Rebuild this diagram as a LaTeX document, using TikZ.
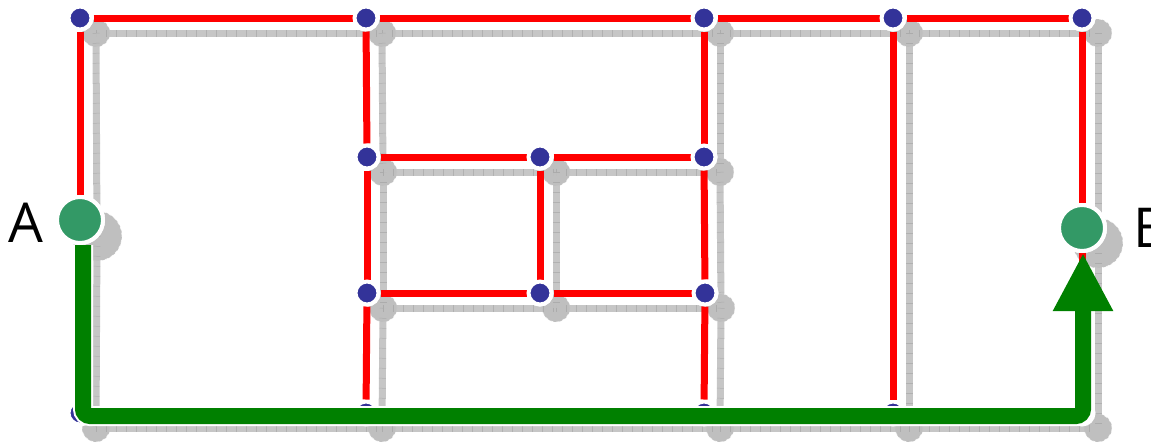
\documentclass[tikz,border=0pt]{standalone}
\usepackage{fontspec}
\setmainfont{Open Sans}
\usetikzlibrary{arrows.meta,calc}
\definecolor{vblue}{RGB}{51,51,153}
\definecolor{vgreen}{RGB}{51,153,102}
\definecolor{pgreen}{RGB}{0,128,0}
\definecolor{shgray}{RGB}{192,192,192}
\tikzset{
  vnode/.style={circle, fill=vblue, draw=white, line width=4pt, minimum size=23pt, inner sep=0pt},
  endnode/.style={circle, fill=vgreen, draw=white, line width=4pt, minimum size=46pt, inner sep=0pt},
  shnode/.style={circle, fill=gray, fill opacity=0.5, draw=white, dashed, line width=0.7pt, draw opacity=0.8, minimum size=28pt, inner sep=0pt},
  shend/.style={shnode, minimum size=50pt},
  redge/.style={red, line width=7pt},
  shedge/.style={shgray, line width=7pt, opacity=0.9},
  shtick/.style={gray, line width=7pt, dash pattern=on 0.5pt off 9.5pt, opacity=0.3},
  lbl/.style={font=\fontsize{55}{60}\selectfont, inner sep=0pt},
}
\begin{document}
\begin{tikzpicture}[x=1pt, y=-1pt]
\useasboundingbox (0,0) rectangle (1151,447);
\def\dx{16}\def\dy{15}
% shadow nodes
\foreach \n/\x/\y in {t1/80/18, t2/366/18, t3/704/18, t4/893/18, t5/1082/18,
                      m1/367/157, m2/540/157, m3/704/157,
                      l1/367/293, l2/540/293, l3/705/293,
                      b1/80/413, b2/366/413, b3/704/413, b4/893/413, b5/1082/413}
  {\node[shnode] (s\n) at (\x+\dx,\y+\dy) {};}
\node[shend] (sA) at (97,236) {};
\node[shend] (sB) at (1098,243) {};
% shadow edges
\foreach \a/\b in {t1/t2, t2/t3, t3/t4, t4/t5, t1/A, A/b1, t2/m1, m1/l1, l1/b2,
                   m1/m2, m2/m3, l1/l2, l2/l3, m2/l2, t3/m3, m3/l3, l3/b3,
                   t4/b4, t5/B, B/b5, b1/b2, b2/b3, b3/b4, b4/b5}
  {\draw[shedge] (s\a.center) -- (s\b.center);
   \draw[shtick] (s\a.center) -- (s\b.center);}
% main nodes
\foreach \n/\x/\y in {t1/80/18, t2/366/18, t3/704/18, t4/893/18, t5/1082/18,
                      m1/367/157, m2/540/157, m3/704/157,
                      l1/367/293, l2/540/293, l3/705/293,
                      b1/80/413, b2/366/413, b3/704/413, b4/893/413, b5/1082/413}
  {\node[vnode] (\n) at (\x,\y) {};}
\node[endnode] (A) at (80,220) {};
\node[endnode] (B) at (1082,228) {};
% red edges
\foreach \a/\b in {t1/t2, t2/t3, t3/t4, t4/t5, t1/A, A/b1, t2/m1, m1/l1, l1/b2,
                   m1/m2, m2/m3, l1/l2, l2/l3, m2/l2, t3/m3, m3/l3, l3/b3,
                   t4/b4, t5/B, B/b5, b1/b2, b2/b3, b3/b4, b4/b5}
  {\draw[redge] (\a) -- (\b);}
% redraw nodes on top
\foreach \n in {t1,t2,t3,t4,t5,m1,m2,m3,l1,l2,l3}
  {\node[vnode] at (\n) {};}
\node[endnode] at (A) {};
\node[endnode] at (B) {};
% labels
\node[lbl, anchor=east] (la) at (44,223) {A};
\node[lbl, anchor=west] (lb) at (1133,228) {B};
% green path
\coordinate (g2) at (1083,416);
\draw[white, line width=20pt, rounded corners=7pt] ([xshift=3pt]A.south) |- (g2) -- ($(B.south)+(1,58)$);
\draw[pgreen, line width=16pt, rounded corners=7pt, -{Triangle[length=58pt, width=56pt]}]
  ([xshift=3pt]A.south) |- (g2) -- ([xshift=1pt]B.south);
\end{tikzpicture}
\end{document}
